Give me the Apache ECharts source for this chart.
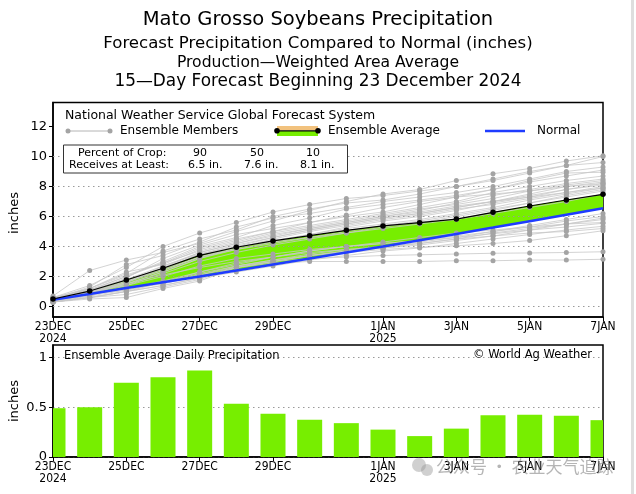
<!DOCTYPE html>
<html><head><meta charset="utf-8">
<script src="https://cdn.jsdelivr.net/npm/echarts@6/dist/echarts.min.js"></script>
<style>html,body{margin:0;padding:0;background:#fff}#c{width:636px;height:494px}</style>
</head><body><div id="c"></div>
<script>
// ---- data ----
const days = [0,1,2,3,4,5,6,7,8,9,10,11,12,13,14,15];
const tickDays = [0,2,4,6,9,11,13,15];
const tickLabels = ['23DEC\n2024','25DEC','27DEC','29DEC','1JAN\n2025','3JAN','5JAN','7JAN'];
const topTicks = [0,2,4,6,8,10,12];
const topGridLines = [0,2,4,6,8,10];
const bottomTicks = [0,0.5,1];

const normal = [0.45,0.84,1.23,1.62,2.0,2.4,2.8,3.2,3.6,4.0,4.42,4.84,5.26,5.69,6.12,6.55];
const ensembleAverage = [0.5,1.03,1.77,2.55,3.41,3.95,4.37,4.72,5.08,5.37,5.59,5.83,6.28,6.7,7.1,7.48];
const dailyPrecip = [0.49,0.50,0.745,0.80,0.87,0.535,0.435,0.375,0.34,0.275,0.21,0.285,0.42,0.425,0.415,0.37];

const member01 = [0.7,2.4,3.1,3.6,4.2,5.0,5.7,6.4,7.0,7.5,7.8,8.4,8.85,9.2,9.7,10.05];
const member02 = [0.6,1.4,2.6,4.0,4.9,5.6,6.3,6.8,7.2,7.4,7.7,8.0,8.5,9.0,9.4,10.0];
const member03 = [0.5,1.2,2.2,3.7,4.5,5.1,6.0,6.5,6.9,7.1,7.5,8.0,8.4,8.9,9.4,9.6];
const member04 = [0.5,1.3,2.8,3.4,4.3,5.3,5.9,6.2,6.6,7.0,7.3,7.6,8.0,8.5,9.0,9.3];
const member05 = [0.6,1.1,2.0,3.0,4.0,4.6,5.4,5.9,6.5,6.8,7.1,7.4,7.8,8.3,8.7,9.1];
const member06 = [0.4,1.0,1.9,3.2,4.1,4.8,5.2,5.6,6.0,6.3,6.8,7.3,7.8,8.4,8.9,8.95];
const member07 = [0.5,1.2,2.3,2.8,3.8,4.4,5.0,5.4,5.8,6.2,6.6,7.0,7.6,8.0,8.4,8.7];
const member08 = [0.4,0.9,1.6,2.6,3.6,4.2,4.8,5.2,5.6,6.0,6.4,6.9,7.4,7.8,8.2,8.5];
const member09 = [0.5,1.1,1.8,2.5,3.5,4.1,4.6,5.1,5.5,5.9,6.2,6.6,7.0,7.5,8.0,8.3];
const member10 = [0.4,0.8,1.5,2.3,3.2,3.8,4.3,4.8,5.3,5.7,6.0,6.4,6.9,7.3,7.8,8.1];
const member11 = [0.5,1.0,1.7,2.4,3.3,3.9,4.4,4.8,5.2,5.5,5.8,6.2,6.6,7.1,7.5,7.9];
const member12 = [0.3,0.7,1.4,2.2,3.0,3.6,4.1,4.5,4.9,5.3,5.6,6.0,6.4,6.9,7.3,7.7];
const member13 = [0.5,1.0,1.6,2.7,3.5,4.0,4.3,4.6,4.9,5.2,5.5,5.8,6.2,6.6,7.0,7.5];
const member14 = [0.4,0.9,1.5,2.3,3.2,3.9,4.5,5.0,5.4,5.8,6.1,6.5,6.8,7.2,7.6,8.0];
const member15 = [0.5,1.0,1.5,2.1,2.6,3.0,3.3,3.6,3.8,3.9,4.1,4.4,4.7,5.1,5.5,5.9];
const member16 = [0.3,0.8,1.6,2.4,3.3,4.0,4.6,5.1,5.5,5.9,6.2,6.6,7.0,7.4,7.8,8.2];
const member17 = [0.4,0.8,1.1,1.6,2.1,2.6,3.0,3.4,3.7,3.9,4.2,4.5,4.9,5.2,5.5,5.8];
const member18 = [0.5,1.0,1.4,2.0,2.7,3.2,3.5,3.8,4.0,4.2,4.4,4.7,5.0,5.4,5.8,6.2];
const member19 = [0.4,0.7,1.1,1.6,2.2,2.7,3.1,3.4,3.7,3.9,4.3,4.6,5.0,5.3,5.7,6.0];
const member20 = [0.3,0.6,1.0,1.6,2.3,2.8,3.3,3.7,4.0,4.3,4.6,4.9,5.1,5.3,5.5,5.6];
const member21 = [0.4,0.8,1.2,1.5,2.1,2.7,3.1,3.5,3.8,4.0,4.2,4.5,4.7,4.9,5.0,5.2];
const member22 = [0.4,0.8,1.2,1.7,2.3,2.9,3.3,3.7,4.0,4.2,4.4,4.6,4.85,5.1,5.3,5.55];
const member23 = [0.3,0.6,1.0,1.4,1.9,2.6,3.0,3.4,3.6,3.8,3.95,4.05,4.2,4.4,4.72,5.05];
const member24 = [0.3,0.6,0.8,1.3,1.8,2.7,3.0,3.2,3.3,3.4,3.45,3.5,3.55,3.57,3.6,3.65];
const member25 = [0.3,0.5,0.6,1.2,1.7,2.6,2.9,3.0,3.0,3.0,3.0,3.05,3.05,3.1,3.1,3.15];
const member26 = [0.5,1.1,2.0,2.9,3.7,4.3,4.9,5.3,5.7,6.1,6.5,6.8,7.2,7.7,8.1,8.4];
const member27 = [0.4,0.9,1.7,2.5,3.3,3.8,4.2,4.6,5.0,5.4,5.7,6.1,6.5,6.9,7.4,7.8];
const member28 = [0.6,1.2,2.1,2.9,3.9,4.5,5.0,5.6,6.1,6.6,7.0,7.3,7.5,7.7,8.0,8.2];
const member29 = [0.3,0.6,1.0,1.4,1.9,2.3,2.7,3.1,3.4,3.7,3.9,4.2,4.5,4.8,5.1,5.35];
const member30 = [0.5,1.0,1.8,2.7,3.6,4.2,4.7,5.2,5.6,6.0,6.3,6.7,7.0,7.3,7.6,7.9];
const members = [member01,member02,member03,member04,member05,member06,member07,member08,member09,member10,
  member11,member12,member13,member14,member15,member16,member17,member18,member19,member20,
  member21,member22,member23,member24,member25,member26,member27,member28,member29,member30];

// ---- chart ----
const GREEN = '#77ee00';
const BLUE = '#1f3cff';
const TICKFONT = "'Liberation Sans Narrow','DejaVu Sans Condensed',sans-serif";
const FONT = "'DejaVu Sans',sans-serif";

const pts = arr => days.map((d, i) => [d, arr[i]]);

const xAxisCommon = {
  type: 'value', min: 0, max: 15,
  axisLine: { show: true, onZero: false, lineStyle: { color: '#000', width: 1.5 } },
  axisTick: { show: true, customValues: tickDays, length: 4, lineStyle: { color: '#000' } },
  axisLabel: { customValues: tickDays, formatter: v => tickLabels[tickDays.indexOf(v)] || '',
    fontFamily: TICKFONT, fontSize: 12, color: '#000', lineHeight: 12, margin: 4 },
  splitLine: { show: false }
};

const series = [];
// green band between normal and ensemble average
series.push({ type: 'custom', xAxisIndex: 0, yAxisIndex: 0, data: [[0, 0]], silent: true, z: 1,
  renderItem: (params, api) => {
    const upper = days.map((d, i) => api.coord([d, ensembleAverage[i]]));
    const lower = days.map((d, i) => api.coord([d, normal[i]])).reverse();
    return { type: 'polygon', shape: { points: upper.concat(lower) }, style: { fill: GREEN } };
  } });
// dotted grid lines (above the band)
series.push({ type: 'line', xAxisIndex: 0, yAxisIndex: 0, data: pts(normal),
  symbol: 'none', lineStyle: { opacity: 0, width: 0 }, silent: true, z: 1,
  markLine: { silent: true, symbol: ['none','none'], label: { show: false }, animation: false,
    lineStyle: { type: [1.5, 3.5], color: '#9a9a9a', width: 1 },
    data: topGridLines.map(v => ({ yAxis: v })) } });
members.forEach(m => series.push({ type: 'line', xAxisIndex: 0, yAxisIndex: 0, data: pts(m),
  symbol: 'circle', symbolSize: 5, itemStyle: { color: '#a4a4a4' },
  lineStyle: { color: '#c8c8c8', width: 0.8 }, silent: true, z: 3 }));
series.push({ type: 'line', xAxisIndex: 0, yAxisIndex: 0, data: pts(normal), symbol: 'none',
  lineStyle: { color: BLUE, width: 2.5 }, silent: true, z: 6 });
series.push({ type: 'line', xAxisIndex: 0, yAxisIndex: 0, data: pts(ensembleAverage), symbol: 'circle', symbolSize: 5.5,
  itemStyle: { color: '#000' }, lineStyle: { color: '#000', width: 1.2 }, silent: true, z: 7 });
// daily bars, clipped to the panel
series.push({ type: 'custom', xAxisIndex: 1, yAxisIndex: 1, data: pts(dailyPrecip), silent: true, z: 2,
  renderItem: (params, api) => {
    const x = api.value(0), y = api.value(1);
    const p0 = api.coord([x, 0]), p1 = api.coord([x, y]);
    const w = 25;
    const rect = { x: p0[0] - w / 2, y: p1[1], width: w, height: p0[1] - p1[1] };
    const cs = params.coordSys;
    const clipped = echarts.graphic.clipRectByRect(rect, { x: cs.x, y: cs.y, width: cs.width, height: cs.height });
    return clipped ? { type: 'rect', shape: clipped, style: { fill: GREEN } } : null;
  } });

const txt = (x, y, s, size, extra) => Object.assign({ type: 'text', x, y, z: 100,
  style: Object.assign({ text: s, font: `${size}px ${FONT}`, fill: '#000', textVerticalAlign: 'middle' }, extra || {}) });

const yName1 = txt(15, 213, 'inches', 13, { textAlign: 'center' }); yName1.rotation = Math.PI / 2;
const yName2 = txt(15, 401, 'inches', 13, { textAlign: 'center' }); yName2.rotation = Math.PI / 2;

const graphics = [
  txt(318, 20, 'Mato Grosso Soybeans Precipitation', 19.5, { textAlign: 'center' }),
  txt(318, 44, 'Forecast Precipitation Compared to Normal (inches)', 16.6, { textAlign: 'center' }),
  txt(318, 63, 'Production\u2014Weighted Area Average', 15.6, { textAlign: 'center' }),
  txt(318, 82, '15\u2014Day Forecast Beginning 23 December 2024', 16.9, { textAlign: 'center' }),
  // legend
  txt(65, 116, 'National Weather Service Global Forecast System', 12.5),
  { type: 'line', z: 100, shape: { x1: 68, y1: 131, x2: 110, y2: 131 }, style: { stroke: '#b4b4b4', lineWidth: 1 } },
  { type: 'circle', z: 101, shape: { cx: 68, cy: 131, r: 2.5 }, style: { fill: '#a4a4a4' } },
  { type: 'circle', z: 101, shape: { cx: 110, cy: 131, r: 2.5 }, style: { fill: '#a4a4a4' } },
  txt(120, 131, 'Ensemble Members', 12),
  { type: 'rect', z: 100, shape: { x: 277, y: 126, width: 41, height: 4.5 }, style: { fill: '#f2c27e' } },
  { type: 'rect', z: 100, shape: { x: 277, y: 131, width: 41, height: 5 }, style: { fill: GREEN } },
  { type: 'line', z: 101, shape: { x1: 277, y1: 130.8, x2: 318, y2: 130.8 }, style: { stroke: '#000', lineWidth: 1.2 } },
  { type: 'circle', z: 102, shape: { cx: 277, cy: 130.8, r: 2.8 }, style: { fill: '#000' } },
  { type: 'circle', z: 102, shape: { cx: 318, cy: 130.8, r: 2.8 }, style: { fill: '#000' } },
  txt(328, 131, 'Ensemble Average', 12),
  { type: 'line', z: 100, shape: { x1: 485, y1: 131, x2: 525, y2: 131 }, style: { stroke: BLUE, lineWidth: 2.5 } },
  txt(537, 131, 'Normal', 12),
  { type: 'rect', z: 100, shape: { x: 63.5, y: 145, width: 284, height: 28 }, style: { fill: '#fff', stroke: '#333', lineWidth: 1 } },
  txt(78, 153.5, 'Percent of Crop:', 11),
  txt(200, 153.5, '90', 11, { textAlign: 'center' }),
  txt(257, 153.5, '50', 11, { textAlign: 'center' }),
  txt(313, 153.5, '10', 11, { textAlign: 'center' }),
  txt(69, 165, 'Receives at Least:', 11),
  txt(188, 165, '6.5 in.', 11),
  txt(244, 165, '7.6 in.', 11),
  txt(300, 165, '8.1 in.', 11),
  yName1, yName2,
  // bottom panel texts
  txt(64, 356, 'Ensemble Average Daily Precipitation', 11.5),
  txt(592, 355, '\u00A9 World Ag Weather', 11.5, { textAlign: 'right' }),
  // watermark
  txt(436, 467, '公众号 · 农业天气追踪', 17, { font: "17px 'Noto Sans CJK SC',sans-serif", fill: 'rgba(120,120,120,0.55)' }),
  { type: 'circle', z: 100, shape: { cx: 419, cy: 465, r: 7 }, style: { fill: 'rgba(150,150,150,0.45)' } },
  { type: 'circle', z: 100, shape: { cx: 427, cy: 470, r: 6 }, style: { fill: 'rgba(150,150,150,0.45)' } },
  // light frame strip on the right edge
  { type: 'rect', z: 100, shape: { x: 631, y: 0, width: 3, height: 494 }, style: { fill: '#dedede' } }
];

const chart = echarts.init(document.getElementById('c'), null, { renderer: 'canvas' });
chart.setOption({
  animation: false,
  backgroundColor: '#fff',
  grid: [
    { left: 53, right: 33, top: 102.5, height: 214.5, show: true, borderColor: '#000', borderWidth: 1.5, containLabel: false },
    { left: 53, right: 33, top: 345, height: 112, show: true, borderColor: '#000', borderWidth: 1.5, containLabel: false }
  ],
  xAxis: [
    Object.assign({ gridIndex: 0 }, xAxisCommon),
    Object.assign({ gridIndex: 1 }, xAxisCommon)
  ],
  yAxis: [
    { gridIndex: 0, type: 'value', min: -0.7, max: 13.6,
      axisLine: { show: true, onZero: false, lineStyle: { color: '#000', width: 1.5 } },
      axisTick: { show: true, customValues: topTicks, length: 4, lineStyle: { color: '#000' } },
      axisLabel: { customValues: topTicks, fontFamily: FONT, fontSize: 13, color: '#000', margin: 6 },
      splitLine: { show: false } },
    { gridIndex: 1, type: 'value', min: 0, max: 1.125, interval: 0.5,
      axisLine: { show: true, onZero: false, lineStyle: { color: '#000', width: 1.5 } },
      axisTick: { show: true, customValues: bottomTicks, length: 4, lineStyle: { color: '#000' } },
      axisLabel: { customValues: bottomTicks, fontFamily: FONT, fontSize: 13, color: '#000', margin: 6 },
      splitLine: { show: true, lineStyle: { type: [1.5, 3.5], color: '#9a9a9a', width: 1 } } }
  ],
  graphic: graphics,
  series
});
</script></body></html>
